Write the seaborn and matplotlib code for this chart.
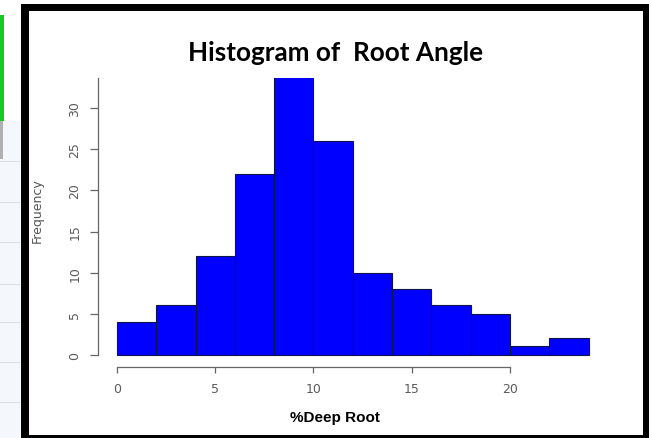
import numpy as np
import pandas as pd
import matplotlib
matplotlib.use("Agg")
import matplotlib.pyplot as plt
import seaborn as sns
from matplotlib.patches import Rectangle

# histogram data (bin width 2)
bin_edges = [0, 2, 4, 6, 8, 10, 12, 14, 16, 18, 20, 22, 24]
counts = [4, 6, 12, 22, 34, 26, 10, 8, 6, 5, 1, 2]
y_ticks = [0, 5, 10, 15, 20, 25, 30]
x_ticks = [0, 5, 10, 15, 20]

W, H = 651, 439

sns.set_style("white")
fig = plt.figure(figsize=(W / 100, H / 100), dpi=100)


def px_rect(x0, y0, x1, y1, color):
    # rectangle in pixel coords (y from the top)
    fig.patches.append(Rectangle((x0 / W, 1 - y1 / H), (x1 - x0) / W, (y1 - y0) / H,
                                 transform=fig.transFigure, color=color, lw=0, zorder=0))


# left strip from the screenshot
px_rect(0, 122, 20, 439, "#f4f7fb")
for yy in [162, 203, 243, 285, 323, 363, 403]:
    px_rect(0, yy, 20, yy + 1, "#d9dee5")
px_rect(0, 16, 4, 122, "#11cc22")
px_rect(0, 122, 3, 160, "#b0b0b0")

# black frame
px_rect(21, 5, 649, 12, "black")
px_rect(21, 5, 29, 439, "black")
px_rect(643, 5, 649, 439, "black")
px_rect(21, 436, 649, 439, "black")

ax = fig.add_axes([98 / W, 71 / H, (607.6 - 98) / W, (368 - 79) / H])
ax.patch.set_alpha(0)

mids = [(a + b) / 2 for a, b in zip(bin_edges[:-1], bin_edges[1:])]
df = pd.DataFrame({"root": mids, "n": counts})
sns.histplot(data=df, x="root", weights="n", bins=bin_edges, color="#0000ff",
             alpha=1, edgecolor="#12124a", linewidth=0.8, ax=ax)

ax.set_xlim(-0.96, 24.96)
ax.set_ylim(-1.5, 33.7)
ax.set_xticks(x_ticks)
ax.set_yticks(y_ticks)
ax.set_xlabel("")
ax.set_ylabel("")

for s in ["top", "right"]:
    ax.spines[s].set_visible(False)
ax.spines["left"].set_bounds(0, 33.7)
ax.spines["bottom"].set_bounds(0, 20)
for s in ["left", "bottom"]:
    ax.spines[s].set_color("#666666")
    ax.spines[s].set_linewidth(0.9)

ax.tick_params(axis="both", colors="#666666", labelcolor="#5a5a5a", labelsize=9,
               width=0.9, direction="out", left=True, bottom=True)
ax.tick_params(axis="y", length=6, pad=6, labelrotation=90)
ax.tick_params(axis="x", length=4, pad=7)
for lab in ax.get_yticklabels():
    lab.set_va("center")

fig.text(335.7 / W, 1 - 61 / H, "Histogram of  Root Angle", family="Lato",
         weight="bold", size=18.8, color="black", ha="center", va="baseline")
fig.text(335 / W, 1 - 422 / H, "%Deep Root", family="Liberation Sans",
         weight="bold", size=11, color="black", ha="center", va="baseline")
fig.text(37 / W, 1 - 211 / H, "Frequency", rotation=90, color="#555555",
         size=9, ha="center", va="center")

fig.savefig("out.png", dpi=100)
